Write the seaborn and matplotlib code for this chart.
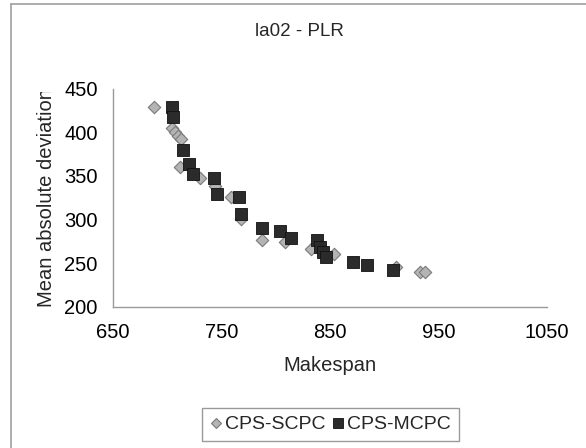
import matplotlib
matplotlib.use("Agg")
import matplotlib.pyplot as plt
from matplotlib.lines import Line2D
from matplotlib.transforms import Bbox, TransformedBbox
import seaborn as sns
import pandas as pd

# ---- data ----
scpc_makespan = [688, 704, 707, 710, 713, 712, 730, 744, 759, 768, 787, 809, 833, 854, 911, 933, 938]
scpc_mad = [429, 405, 400, 396, 392, 360, 348, 338, 326, 300, 276, 274, 266, 260, 246, 240, 240]
mcpc_makespan = [704, 705, 715, 720, 724, 743, 746, 766, 768, 787, 804, 814, 838, 841, 844, 846, 871, 884, 908]
mcpc_mad = [429, 417, 380, 364, 352, 348, 329, 326, 306, 290, 287, 279, 276, 269, 263, 257, 251, 248, 242]
series_names = ["CPS-SCPC", "CPS-MCPC"]
x_ticks = [650, 750, 850, 950, 1050]
y_ticks = [200, 250, 300, 350, 400, 450]

df = pd.DataFrame({
    "Makespan": scpc_makespan + mcpc_makespan,
    "MAD": scpc_mad + mcpc_mad,
    "series": [series_names[0]] * len(scpc_makespan) + [series_names[1]] * len(mcpc_makespan),
})

sns.set_style("white")
plt.rcParams["font.family"] = ["Liberation Sans", "DejaVu Sans"]

W, H = 586, 448
fig = plt.figure(figsize=(W / 100, H / 100), dpi=100)
ax = fig.add_axes([113 / W, 1 - 306.7 / H, (546.7 - 113) / W, (306.7 - 88.7) / H])

# draw SCPC first, MCPC on top
sns.scatterplot(data=df[df.series == series_names[0]], x="Makespan", y="MAD", ax=ax,
                marker="D", s=40, color="#b4b4b4", edgecolor="#7a7a7a", linewidth=0.8,
                label=series_names[0], zorder=3)
sns.scatterplot(data=df[df.series == series_names[1]], x="Makespan", y="MAD", ax=ax,
                marker="s", s=70, color="#2b2b2b", edgecolor="#111111", linewidth=0.6,
                label=series_names[1], zorder=4)
if ax.get_legend() is not None:
    ax.get_legend().remove()

ax.set_xlim(650, 1050)
ax.set_ylim(200, 450)
ax.set_xticks(x_ticks)
ax.set_yticks(y_ticks)
for s in ["top", "right"]:
    ax.spines[s].set_visible(False)
for s in ["left", "bottom"]:
    ax.spines[s].set_color("#9a9a9a")
    ax.spines[s].set_linewidth(1.0)
ax.tick_params(axis="both", direction="out", length=4, width=1.0, color="#9a9a9a",
               labelsize=14.5, labelcolor="black")
ax.tick_params(axis="x", pad=8)
ax.tick_params(axis="y", pad=7)
ax.grid(False)

ax.set_xlabel("Makespan", fontsize=14.5)
ax.xaxis.set_label_coords(0.5, -0.225)
ax.set_ylabel("")

ylab = fig.text(47 / W, 1 - 197.7 / H, "Mean absolute deviation", rotation=90,
                ha="center", va="center", fontsize=14.5)
clip = TransformedBbox(Bbox([[0, 0], [1, 1 - 92 / H]]), fig.transFigure)
ylab.set_clip_box(clip)
ylab.set_clip_on(True)

fig.text(299 / W, 1 - 31 / H, "la02 - PLR", ha="center", va="center", fontsize=13.5)

handles = [
    Line2D([], [], marker="D", linestyle="none", markersize=5, markerfacecolor="#b4b4b4",
           markeredgecolor="#7a7a7a", markeredgewidth=0.8),
    Line2D([], [], marker="s", linestyle="none", markersize=6.5, markerfacecolor="#2b2b2b",
           markeredgecolor="#111111", markeredgewidth=0.6),
]
leg = fig.legend(handles, series_names, loc="center", bbox_to_anchor=(330.5 / W, 1 - 424.5 / H),
                 ncol=2, frameon=True, fancybox=False, framealpha=1, edgecolor="#9a9a9a",
                 fontsize=14, handlelength=0.6, handletextpad=0.2, columnspacing=0.3,
                 borderpad=0.4, borderaxespad=0)
leg.get_frame().set_linewidth(1.0)

# outer chart border (left and top visible)
fig.add_artist(Line2D([11 / W, 11 / W], [0, 1 - 4 / H], transform=fig.transFigure,
                      color="#a0a0a0", linewidth=1.2))
fig.add_artist(Line2D([11 / W, 1], [1 - 4 / H, 1 - 4 / H], transform=fig.transFigure,
                      color="#a0a0a0", linewidth=1.2))

fig.savefig("out.png", dpi=100, facecolor="white")
